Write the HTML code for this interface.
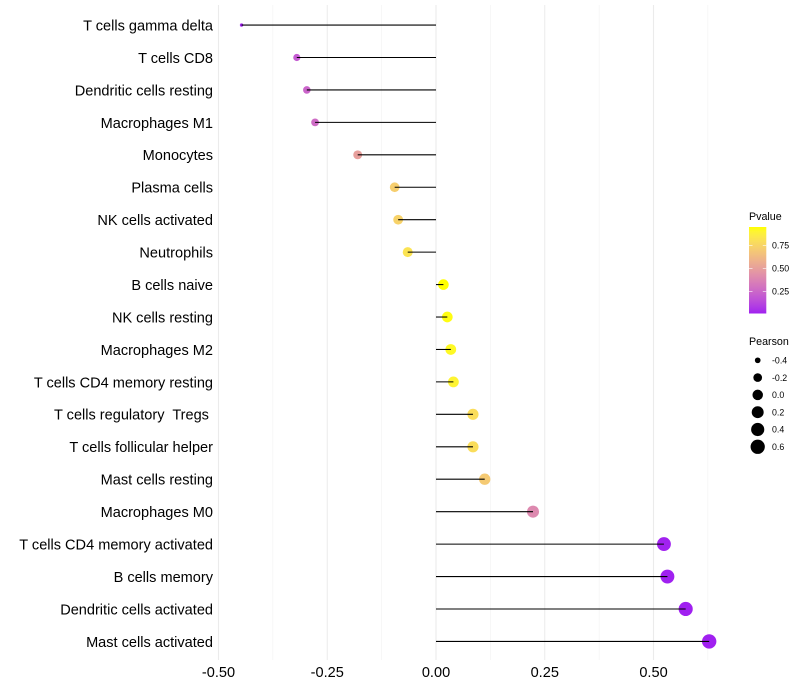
<!DOCTYPE html>
<html lang="en">
<head>
<meta charset="utf-8">
<title>Lollipop chart of immune cell correlation</title>
<style>
html,body{margin:0;padding:0;background:#fff;}
svg{display:block;font-family:"Liberation Sans",sans-serif;}
</style>
</head>
<body>
<svg id="chart" width="800" height="700" viewBox="0 0 800 700" xmlns="http://www.w3.org/2000/svg">
  <defs>
    <linearGradient id="pvalue-gradient" x1="0" y1="1" x2="0" y2="0"></linearGradient>
  </defs>
  <rect width="800" height="700" fill="#ffffff"></rect>
  <g id="grid"></g>
  <g id="points"></g>
  <g id="stems"></g>
  <g id="y-axis"></g>
  <g id="x-axis"></g>
  <g id="legend-color">
    <text x="749" y="220" font-size="10.7" fill="#000">Pvalue</text>
    <rect x="749" y="227" width="17.3" height="86.5" fill="url(#pvalue-gradient)"></rect>
  </g>
  <g id="legend-size">
    <text x="749" y="345" font-size="10.7" fill="#000">Pearson</text>
  </g>
</svg>
<script>
const categories = ["T cells gamma delta","T cells CD8","Dendritic cells resting","Macrophages M1","Monocytes","Plasma cells","NK cells activated","Neutrophils","B cells naive","NK cells resting","Macrophages M2","T cells CD4 memory resting","T cells regulatory  Tregs ","T cells follicular helper","Mast cells resting","Macrophages M0","T cells CD4 memory activated","B cells memory","Dendritic cells activated","Mast cells activated"];
const pearson = [-0.447,-0.320,-0.297,-0.278,-0.180,-0.095,-0.087,-0.065,0.017,0.026,0.034,0.040,0.085,0.085,0.112,0.223,0.524,0.532,0.574,0.628];
const pvalue = [0.01,0.20,0.24,0.27,0.50,0.72,0.74,0.82,0.95,0.94,0.92,0.90,0.79,0.79,0.70,0.40,0.015,0.012,0.01,0.01];
const xTicks = [-0.5,-0.25,0,0.25,0.5];
const xTickLabels = ["-0.50","-0.25","0.00","0.25","0.50"];
const xMinorTicks = [-0.375,-0.125,0.125,0.375,0.625];
const colorTicks = [0.25,0.5,0.75];
const colorTickLabels = ["0.25","0.50","0.75"];
const sizeTicks = [-0.4,-0.2,0,0.2,0.4,0.6];
const sizeTickLabels = ["-0.4","-0.2","0.0","0.2","0.4","0.6"];

const NS = "http://www.w3.org/2000/svg";
const make = (tag, attrs, parent) => {
  const el = document.createElementNS(NS, tag);
  for (const k in attrs) el.setAttribute(k, attrs[k]);
  parent.appendChild(el);
  return el;
};

/* axis functions */
const xScale = v => 436 + v * 435;
const yScale = i => 25.06 + i * 32.44;
const pMin = 0.01, pMax = 0.95;
const colorBarY = p => 313.5 - (p - pMin) / (pMax - pMin) * 86.5;
const legendSizeY = i => 360.3 + i * 17.3;
const pearsonMin = -0.447, pearsonMax = 0.628;
const diameter = v => 3.4 + 11 * Math.sqrt(Math.max(0, (v - pearsonMin) / (pearsonMax - pearsonMin)));

/* Lab colour interpolation between purple and yellow */
const toLin = c => { c /= 255; return c > 0.04045 ? Math.pow((c + 0.055) / 1.055, 2.4) : c / 12.92; };
const fromLin = c => {
  const v = c > 0.0031308 ? 1.055 * Math.pow(c, 1 / 2.4) - 0.055 : 12.92 * c;
  return Math.round(255 * Math.min(1, Math.max(0, v)));
};
const fLab = t => t > 0.008856 ? Math.cbrt(t) : 7.787 * t + 16 / 116;
const fInv = t => t > 0.2069 ? t * t * t : (t - 16 / 116) / 7.787;
const rgbToLab = ([r, g, b]) => {
  const R = toLin(r), G = toLin(g), B = toLin(b);
  const X = (0.4124 * R + 0.3576 * G + 0.1805 * B) / 0.95047;
  const Y = 0.2126 * R + 0.7152 * G + 0.0722 * B;
  const Z = (0.0193 * R + 0.1192 * G + 0.9505 * B) / 1.08883;
  return [116 * fLab(Y) - 16, 500 * (fLab(X) - fLab(Y)), 200 * (fLab(Y) - fLab(Z))];
};
const labToRgb = ([L, a, b]) => {
  const fy = (L + 16) / 116;
  const X = fInv(fy + a / 500) * 0.95047, Y = fInv(fy), Z = fInv(fy - b / 200) * 1.08883;
  const r = 3.2406 * X - 1.5372 * Y - 0.4986 * Z;
  const g = -0.9689 * X + 1.8758 * Y + 0.0415 * Z;
  const bb = 0.0557 * X - 0.204 * Y + 1.057 * Z;
  return "rgb(" + fromLin(r) + "," + fromLin(g) + "," + fromLin(bb) + ")";
};
const labLow = rgbToLab([160, 32, 240]);
const labHigh = rgbToLab([255, 255, 0]);
const colorOf = p => {
  const t = Math.min(1, Math.max(0, (p - pMin) / (pMax - pMin)));
  return labToRgb(labLow.map((v, i) => v + (labHigh[i] - v) * t));
};

/* gradient */
const gradient = document.getElementById("pvalue-gradient");
for (let s = 0; s <= 20; s++) {
  make("stop", {offset: s / 20, "stop-color": colorOf(pMin + (pMax - pMin) * s / 20)}, gradient);
}

/* grid */
const gridG = document.getElementById("grid");
xMinorTicks.forEach(v => {
  const l = make("line", {x1: xScale(v), x2: xScale(v), y1: 5, y2: 660, stroke: "#f0f0f0", "stroke-width": 0.55}, gridG);
  
  
});
xTicks.forEach(v => {
  const l = make("line", {x1: xScale(v), x2: xScale(v), y1: 5, y2: 660, stroke: "#ebebeb", "stroke-width": 1.07}, gridG);
  
  
});

/* marks */
const pointsG = document.getElementById("points");
const stemsG = document.getElementById("stems");
const yAxisG = document.getElementById("y-axis");
categories.forEach((name, i) => {
  const c = make("circle", {cx: xScale(pearson[i]), cy: yScale(i), r: diameter(pearson[i]) / 2, fill: colorOf(pvalue[i])}, pointsG);
  
  
  const s = make("line", {x1: xScale(0), x2: xScale(pearson[i]), y1: yScale(i), y2: yScale(i), stroke: "#000", "stroke-width": 1.07}, stemsG);
  
  
  const t = make("text", {x: 213, y: yScale(i) + 5.4, "text-anchor": "end", "font-size": 14.55, fill: "#000", style: "white-space:pre"}, yAxisG);
  t.textContent = name;
  
  
});

/* x axis labels */
const xAxisG = document.getElementById("x-axis");
xTicks.forEach((v, i) => {
  const t = make("text", {x: xScale(v), y: 677, "text-anchor": "middle", "font-size": 14.55, fill: "#000"}, xAxisG);
  t.textContent = xTickLabels[i];
  
  
});

/* colour legend */
const legendColorG = document.getElementById("legend-color");
colorTicks.forEach((p, i) => {
  const y = colorBarY(p);
  const a = make("line", {x1: 749, x2: 752.5, y1: y, y2: y, stroke: "#fff", "stroke-width": 0.6}, legendColorG);
  
  
  const b = make("line", {x1: 762.8, x2: 766.3, y1: y, y2: y, stroke: "#fff", "stroke-width": 0.6}, legendColorG);
  
  
  const t = make("text", {x: 772, y: y + 3.2, "font-size": 8.8, fill: "#000"}, legendColorG);
  t.textContent = colorTickLabels[i];
  
  
});

/* size legend */
const legendSizeG = document.getElementById("legend-size");
sizeTicks.forEach((v, i) => {
  const y = legendSizeY(i);
  const c = make("circle", {cx: 757.7, cy: y, r: diameter(v) / 2, fill: "#000"}, legendSizeG);
  
  
  const t = make("text", {x: 772, y: y + 3.2, "font-size": 8.8, fill: "#000"}, legendSizeG);
  t.textContent = sizeTickLabels[i];
  
  
});
</script>
</body>
</html>
